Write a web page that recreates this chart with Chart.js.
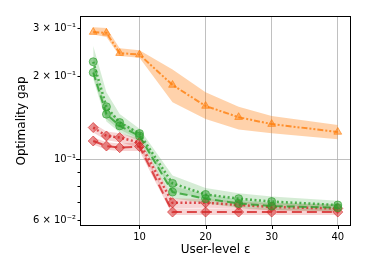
<!DOCTYPE html>
<html><head><meta charset="utf-8">
<script src="https://cdn.jsdelivr.net/npm/chart.js@4.4.0/dist/chart.umd.min.js"></script>
<style>html,body{margin:0;padding:0;background:#fff;} canvas{display:block;}</style>
</head><body>
<canvas id="c" width="367" height="275"></canvas>
<script>
// ---- data ----
const xValues = [3, 5, 7, 10, 15, 20, 25, 30, 40];

const orangeMean = [0.290, 0.288, 0.243, 0.240, 0.186, 0.156, 0.142, 0.134, 0.1255];
const orangeLo   = [0.284, 0.278, 0.237, 0.234, 0.161, 0.140, 0.128, 0.124, 0.118];
const orangeHi   = [0.302, 0.300, 0.253, 0.249, 0.212, 0.175, 0.155, 0.1435, 0.133];

const greenDotMean = [0.226, 0.155, 0.1358, 0.1238, 0.0815, 0.0743, 0.0717, 0.0700, 0.0680];
const greenDotLo   = [0.200, 0.140, 0.128, 0.118, 0.0765, 0.0710, 0.0690, 0.0680, 0.0662];
const greenDotHi   = [0.258, 0.175, 0.146, 0.129, 0.0870, 0.0785, 0.0750, 0.0730, 0.0705];

const greenDashMean = [0.2066, 0.1456, 0.1320, 0.1213, 0.0758, 0.0717, 0.0689, 0.0674, 0.0665];
const greenDashLo   = [0.195, 0.137, 0.125, 0.116, 0.0720, 0.0690, 0.0665, 0.0652, 0.0645];
const greenDashHi   = [0.220, 0.153, 0.138, 0.125, 0.0795, 0.0745, 0.0712, 0.0695, 0.0685];

const redDotMean = [0.1302, 0.1213, 0.1197, 0.1148, 0.0693, 0.0693, 0.0680, 0.0669, 0.0660];
const redDotLo   = [0.125, 0.117, 0.115, 0.110, 0.0662, 0.0665, 0.0660, 0.0650, 0.0642];
const redDotHi   = [0.135, 0.126, 0.124, 0.119, 0.0720, 0.0715, 0.0700, 0.0690, 0.0680];

const redDashMean = [0.1163, 0.1115, 0.1100, 0.1110, 0.0641, 0.0641, 0.0641, 0.0641, 0.0641];
const redDashLo   = [0.113, 0.108, 0.107, 0.107, 0.0625, 0.0625, 0.0625, 0.0625, 0.0625];
const redDashHi   = [0.120, 0.115, 0.114, 0.115, 0.0660, 0.0660, 0.0660, 0.0660, 0.0660];

const xTickValues = [10, 20, 30, 40];
const yTickValues = [0.06, 0.07, 0.08, 0.09, 0.1, 0.2, 0.3];
const yTickLabels = ['6 × 10⁻²', '', '', '', '10⁻¹', '2 × 10⁻¹', '3 × 10⁻¹'];
const yMajorTicks = [0.1];

const xTitle = 'User-level ε';
const yTitle = 'Optimality gap';

// ---- styles ----
const ORANGE = [255, 127, 14];
const GREEN = [44, 160, 44];
const RED = [214, 39, 40];
const rgba = (c, a) => `rgba(${c[0]},${c[1]},${c[2]},${a})`;
const pts = arr => arr.map((v, i) => ({x: xValues[i], y: v}));

function band(lo, hi, col, alpha) {
  return [
    {data: pts(lo), borderWidth: 0, pointRadius: 0, fill: false, order: 20, borderColor: 'transparent'},
    {data: pts(hi), borderWidth: 0, pointRadius: 0, fill: '-1', order: 20, borderColor: 'transparent',
     backgroundColor: rgba(col, alpha)}
  ];
}
function line(mean, col, dash, style, radius, width) {
  return {data: pts(mean), borderColor: rgba(col, 0.8), borderWidth: width, borderDash: dash,
    pointStyle: style, pointRadius: radius, pointBackgroundColor: rgba(col, 0.5),
    pointBorderColor: rgba(col, 0.65), pointBorderWidth: 1, fill: false, order: 1, tension: 0};
}

const datasets = [
  ...band(orangeLo, orangeHi, ORANGE, 0.35),
  ...band(greenDotLo, greenDotHi, GREEN, 0.2),
  ...band(greenDashLo, greenDashHi, GREEN, 0.2),
  ...band(redDotLo, redDotHi, RED, 0.2),
  ...band(redDashLo, redDashHi, RED, 0.2),
  line(orangeMean, ORANGE, [6, 2, 2, 2, 2, 2], 'triangle', 4.5, 2),
  line(greenDotMean, GREEN, [2, 2.5], 'circle', 4, 2.5),
  line(greenDashMean, GREEN, [8, 4], 'circle', 4, 2),
  line(redDotMean, RED, [2, 2.5], 'rectRot', 5, 2.5),
  line(redDashMean, RED, [10, 5], 'rectRot', 5, 2),
];

const framePlugin = {
  id: 'frame',
  afterDraw(chart) {
    const {ctx, chartArea: a, scales} = chart;
    ctx.save();
    ctx.strokeStyle = '#000';
    ctx.lineWidth = 1;
    ctx.strokeRect(a.left - 0.5, a.top - 0.5, a.right - a.left + 1, a.bottom - a.top + 1);
    ctx.beginPath();
    xTickValues.forEach(v => {
      const x = Math.round(scales.x.getPixelForValue(v)) + 0.5;
      ctx.moveTo(x, a.bottom); ctx.lineTo(x, a.bottom + 4);
    });
    yTickValues.forEach(v => {
      const y = Math.round(scales.y.getPixelForValue(v)) + 0.5;
      const len = yMajorTicks.includes(v) ? 4 : 2.5;
      ctx.moveTo(a.left - 1, y); ctx.lineTo(a.left - 1 - len, y);
    });
    ctx.stroke();
    ctx.restore();
  }
};

const font = {family: 'DejaVu Sans', size: 10};
new Chart(document.getElementById('c'), {
  type: 'line',
  data: {datasets},
  options: {
    responsive: false, animation: false, devicePixelRatio: 1,
    layout: {padding: {left: 0, top: 17, right: 17, bottom: 0}},
    plugins: {legend: {display: false}, tooltip: {enabled: false}},
    scales: {
      x: {
        type: 'linear', min: 1.15, max: 41.85, bounds: 'data',
        afterFit: s => { s.height = 50; },
        afterBuildTicks: s => { s.ticks = xTickValues.map(v => ({value: v})); },
        ticks: {autoSkip: false, maxRotation: 0, padding: 6, color: '#000', font,
                callback: v => String(v)},
        grid: {drawTicks: false, color: 'rgba(176,176,176,0.8)', lineWidth: 1},
        border: {display: false},
        title: {display: true, text: xTitle, color: '#000', font: {family: 'DejaVu Sans', size: 12},
                padding: {top: 0, bottom: 18}}
      },
      y: {
        type: 'logarithmic', min: 0.0575, max: 0.329, bounds: 'data',
        afterFit: s => { s.width = 81; },
        afterBuildTicks: s => { s.ticks = yTickValues.map(v => ({value: v, major: yMajorTicks.includes(v)})); },
        ticks: {autoSkip: false, padding: 5, color: '#000', font,
                callback: (v) => { const i = yTickValues.indexOf(v); return i >= 0 ? yTickLabels[i] : ''; }},
        grid: {drawTicks: false, lineWidth: 1,
               color: c => (c.tick && yMajorTicks.includes(c.tick.value)) ? 'rgba(176,176,176,0.8)' : 'rgba(0,0,0,0)'},
        border: {display: false},
        title: {display: true, text: yTitle, color: '#000', font: {family: 'DejaVu Sans', size: 12},
                padding: {top: 15, bottom: 0}}
      }
    }
  },
  plugins: [framePlugin]
});
</script>
</body></html>
